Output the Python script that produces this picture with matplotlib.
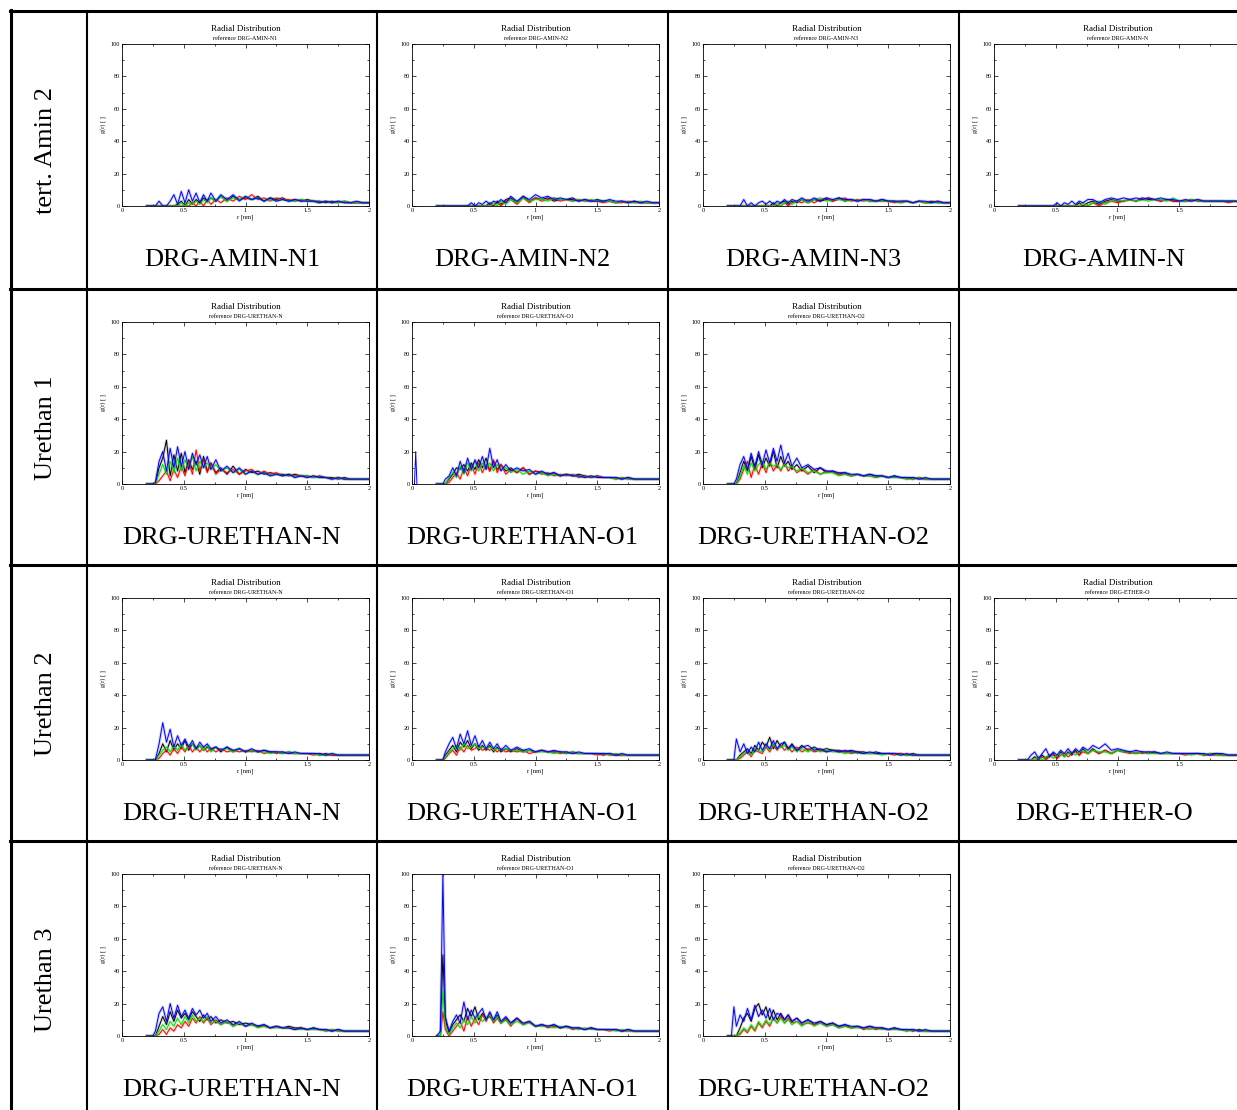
import matplotlib
matplotlib.use('Agg')
import matplotlib.pyplot as plt
from matplotlib.lines import Line2D
from matplotlib.ticker import MultipleLocator, FuncFormatter

plt.rcParams['font.family'] = ['Liberation Serif', 'DejaVu Serif']

# shared r grid [nm]
r_nm = [0.20, 0.23, 0.25, 0.27, 0.30, 0.33, 0.36, 0.39, 0.42, 0.45,
        0.48, 0.51, 0.54, 0.57, 0.60, 0.63, 0.66, 0.69, 0.72, 0.76,
        0.80, 0.85, 0.90, 0.95, 1.00,
        1.05, 1.10, 1.15, 1.20, 1.25, 1.30, 1.35, 1.40, 1.45, 1.50,
        1.55, 1.60, 1.65, 1.70, 1.75, 1.80, 1.85, 1.90, 1.95, 2.00]

row_labels = ['tert. Amin 2', 'Urethan 1', 'Urethan 2', 'Urethan 3']

# --- tert. Amin 2 ---
a2_n1_k = [0,0,0,0,0, 0,0,0,0,1, 3,0,4,1,4, 2,5,3,5,3, 6,3,6,4,5, 4,6,3,5,4, 5,3,4,3,4, 3,3,2,3,2, 3,2,2,2,2]
a2_n1_r = [0,0,0,0,0, 0,0,0,0,0, 0,0,0,2,0, 3,0,4,1,4, 2,5,3,6,4, 7,4,5,3,5, 4,4,3,4,3, 3,2,3,2,3, 2,2,2,2,2]
a2_n1_g = [0,0,0,0,0, 0,0,0,0,0, 2,0,2,1,3, 1,4,2,5,3, 6,3,5,4,6, 4,5,3,4,3, 4,3,3,4,3, 3,2,3,2,2, 3,2,2,2,2]
a2_n1_b = [0,0,0,0,3, 0,0,3,7,1, 9,2,10,3,8, 2,7,3,8,3, 7,4,7,3,6, 4,5,3,5,3, 4,3,4,3,3, 3,2,3,2,3, 2,2,3,2,2]

a2_n2_k = [0,0,0,0,0, 0,0,0,0,0, 0,0,0,0,0, 2,0,3,1,4, 5,2,6,3,5, 4,5,3,4,4, 5,3,4,3,4, 3,3,2,3,2, 3,2,2,2,2]
a2_n2_r = [0,0,0,0,0, 0,0,0,0,0, 0,0,0,0,0, 0,0,2,0,3, 4,1,5,2,5, 3,4,5,3,4, 3,4,3,3,3, 2,3,2,2,3, 2,2,2,2,2]
a2_n2_g = [0,0,0,0,0, 0,0,0,0,0, 0,0,0,0,0, 0,2,0,3,1, 4,2,5,3,4, 4,3,5,4,4, 3,4,3,4,3, 3,3,2,3,2, 2,3,2,2,2]
a2_n2_b = [0,0,0,0,0, 0,0,0,0,0, 2,0,2,1,3, 1,3,2,4,2, 6,3,6,4,7, 5,6,4,5,4, 4,3,4,3,3, 3,4,3,3,2, 3,2,3,2,2]

a2_n3_k = [0,0,0,0,0, 0,0,0,0,0, 0,0,0,2,0, 2,3,1,3,2, 4,2,4,3,4, 3,5,3,4,3, 4,3,3,4,3, 3,2,3,2,3, 2,3,2,2,2]
a2_n3_r = [0,0,0,0,0, 0,0,0,0,0, 0,0,0,0,0, 0,2,0,2,3, 2,4,2,4,5, 3,4,5,3,4, 3,4,3,3,3, 2,3,3,2,3, 2,2,3,2,2]
a2_n3_g = [0,0,0,0,0, 0,0,0,0,0, 0,0,0,0,2, 0,2,3,1,3, 4,2,4,5,3, 4,4,3,4,3, 4,3,3,3,3, 3,2,3,2,3, 2,2,2,2,2]
a2_n3_b = [0,0,0,0,0, 4,0,2,0,2, 3,1,3,1,3, 2,4,2,4,3, 5,3,5,3,5, 4,5,4,4,3, 4,4,3,4,3, 3,3,3,2,3, 3,2,3,2,2]

a2_n_k = [0,0,0,0,0, 0,0,0,0,0, 0,0,0,0,0, 0,0,2,0,2, 3,1,3,4,3, 3,4,3,5,4, 4,3,4,3,3, 3,4,3,3,3, 3,3,3,3,2]
a2_n_r = [0,0,0,0,0, 0,0,0,0,0, 0,0,0,0,0, 0,0,0,0,0, 2,0,2,3,2, 3,4,3,4,5, 4,3,4,3,3, 3,3,4,3,3, 3,3,2,3,2]
a2_n_g = [0,0,0,0,0, 0,0,0,0,0, 0,0,0,0,0, 0,0,0,2,0, 2,3,1,3,4, 3,4,3,4,3, 4,4,3,5,3, 3,4,3,3,3, 3,3,3,3,3]
a2_n_b = [0,0,0,0,0, 0,0,0,0,0, 0,2,0,2,1, 3,1,3,2,4, 4,2,4,5,4, 5,4,5,4,5, 4,5,4,4,3, 4,3,4,3,3, 3,3,3,3,3]

# --- Urethan 1 ---
u1_n_k = [0,0,0,0,10, 16,27,5,18,8, 19,7,15,9,14, 6,17,8,13,7, 10,6,11,6,9, 7,8,6,7,6, 6,5,6,5,5, 4,5,4,4,3, 4,3,3,3,3]
u1_n_r = [0,0,0,0,2, 5,8,2,9,4, 11,5,14,6,21, 8,15,7,13,6, 9,7,9,6,8, 9,6,8,6,7, 5,6,5,5,4, 5,4,4,3,4, 3,3,3,3,3]
u1_n_g = [0,0,0,0,6, 12,6,14,7,16, 8,15,9,17,8, 14,10,13,9,12, 8,10,7,9,6, 8,6,7,5,6, 5,6,4,5,5, 4,4,4,3,4, 3,3,3,3,3]
u1_n_b = [0,0,0,1,14, 20,8,22,10,23, 11,20,9,19,12, 18,10,17,9,15, 8,11,7,10,6, 8,6,7,5,6, 5,6,4,5,4, 5,4,4,3,4, 3,3,3,3,3]

u1_o1_k = [0,0,0,0,3, 6,10,9,12,8, 13,9,15,10,16, 8,14,9,12,8, 10,7,10,6,8, 7,6,7,5,6, 5,6,5,4,5, 4,4,4,3,4, 3,3,3,3,3]
u1_o1_r = [0,0,0,0,1, 4,7,3,10,5, 12,6,13,7,12, 8,15,7,12,6, 9,7,10,6,8, 6,7,5,6,5, 6,4,5,4,5, 4,4,3,4,3, 3,3,3,3,3]
u1_o1_g = [0,0,0,0,4, 7,4,11,6,13, 8,14,8,13,9, 13,8,12,9,10, 7,9,6,8,6, 7,5,6,5,6, 5,5,4,5,4, 4,4,3,4,3, 3,3,3,3,3]
u1_o1_b = [0,0,0,3,5, 10,5,14,7,16, 9,15,10,17,9, 22,10,15,8,12, 8,10,8,9,6, 8,6,7,5,6, 5,5,4,5,4, 4,4,4,3,4, 3,3,3,3,3]
# lone blue spike close to r = 0
u1_o1_spike_r = [0.02, 0.03, 0.04]
u1_o1_spike_b = [0, 20, 0]

u1_o2_k = [0,0,0,0,7, 14,8,17,9,18, 10,16,11,20,10, 17,11,14,9,12, 8,11,7,10,7, 8,6,7,5,6, 5,6,5,5,4, 5,4,4,3,4, 3,3,3,3,3]
u1_o2_r = [0,0,0,0,3, 9,14,4,12,6, 13,7,14,8,12, 8,13,8,11,7, 9,6,9,6,8, 7,6,6,5,6, 5,5,4,5,4, 4,4,3,4,3, 3,3,3,3,3]
u1_o2_g = [0,0,0,0,5, 11,6,13,8,12, 14,9,13,11,12, 9,12,10,11,8, 10,7,8,6,7, 7,5,6,5,6, 5,5,4,5,4, 4,4,3,3,4, 3,3,3,3,3]
u1_o2_b = [0,0,0,3,12, 17,9,19,11,20, 12,21,13,22,14, 24,13,19,11,16, 10,12,9,10,8, 8,7,7,6,6, 5,6,5,5,4, 5,4,4,4,3, 4,3,3,3,3]

# --- Urethan 2 ---
u2_n_k = [0,0,0,0,4, 10,5,12,6,10, 7,12,6,10,7, 9,6,8,6,8, 5,8,5,7,5, 6,5,6,5,5, 4,5,4,4,4, 4,3,4,3,3, 3,3,3,3,3]
u2_n_r = [0,0,0,0,1, 4,6,3,7,4, 8,5,9,5,8, 5,8,5,7,5, 7,5,6,5,6, 5,6,4,5,4, 5,4,4,4,4, 3,4,3,3,3, 3,3,3,3,3]
u2_n_g = [0,0,0,0,3, 6,8,5,9,6, 10,6,9,10,6, 9,6,9,5,8, 6,7,5,7,5, 6,5,5,4,5, 4,5,4,4,4, 4,3,3,4,3, 3,3,3,3,3]
u2_n_b = [0,0,0,0,10, 23,11,19,8,15, 9,13,8,12,7, 11,8,10,7,8, 6,8,6,7,5, 7,5,6,5,5, 5,4,5,4,4, 4,4,3,4,3, 3,3,3,3,3]

u2_o1_k = [0,0,0,3,6, 9,5,11,8,12, 7,10,6,9,6, 9,5,8,5,7, 5,7,5,6,5, 6,5,5,5,4, 5,4,4,4,4, 3,4,3,3,3, 3,3,3,3,3]
u2_o1_r = [0,0,0,1,4, 6,3,8,5,9, 6,7,9,6,7, 6,7,5,7,5, 6,5,6,4,5, 6,5,5,4,5, 4,4,4,4,3, 4,3,3,3,3, 3,3,3,3,3]
u2_o1_g = [0,0,0,2,5, 7,9,6,10,7, 8,10,7,8,7, 8,6,7,6,7, 6,6,5,6,5, 5,5,4,5,4, 5,4,4,4,4, 4,3,4,3,3, 3,3,3,3,3]
u2_o1_b = [0,0,0,5,10, 14,7,16,10,18, 9,15,8,12,7, 11,7,10,6,9, 6,8,6,7,5, 6,5,6,5,5, 4,5,4,4,4, 4,4,3,4,3, 3,3,3,3,3]

u2_o2_k = [0,0,0,0,3, 5,7,4,9,6, 11,8,14,7,12, 8,11,7,10,6, 9,6,8,6,7, 6,6,5,6,5, 5,4,5,4,4, 4,4,3,4,3, 3,3,3,3,3]
u2_o2_r = [0,0,0,0,1, 3,5,2,6,5, 4,8,5,9,6, 9,6,8,5,8, 5,7,5,6,5, 6,5,5,4,5, 4,4,4,4,4, 3,4,3,3,3, 3,3,3,3,3]
u2_o2_g = [0,0,0,0,2, 4,6,3,7,6, 5,9,6,10,7, 8,9,6,8,5, 7,5,7,5,6, 5,5,4,5,4, 4,4,4,3,4, 4,3,3,3,3, 3,3,3,3,3]
u2_o2_b = [0,0,0,13,5, 10,4,8,5,11, 6,10,7,12,7, 10,11,7,9,6, 8,9,6,7,5, 6,5,6,5,5, 4,5,4,4,4, 4,3,4,3,3, 3,3,3,3,3]

u2_eth_k = [0,0,0,0,0, 2,0,3,1,3, 4,1,5,2,5, 3,6,3,7,4, 7,4,6,4,6, 5,5,4,5,4, 5,4,4,4,4, 4,4,4,3,4, 4,3,3,3,3]
u2_eth_r = [0,0,0,0,0, 0,0,2,0,2, 3,1,3,4,2, 4,5,3,5,4, 6,4,6,4,6, 5,4,5,4,5, 4,4,4,4,4, 3,4,4,3,3, 3,3,3,3,3]
u2_eth_g = [0,0,0,0,0, 0,2,0,2,3, 1,3,4,2,4, 5,3,5,6,4, 6,5,5,4,6, 5,5,4,5,4, 4,4,4,4,4, 4,3,4,3,4, 3,3,3,3,3]
u2_eth_b = [0,0,0,0,3, 5,1,4,7,2, 5,3,6,4,7, 4,7,5,8,6, 9,7,10,6,7, 6,5,6,5,5, 5,4,5,4,4, 4,4,4,4,3, 4,4,3,3,3]

# --- Urethan 3 ---
u3_n_k = [0,0,0,0,6, 12,7,15,9,16, 11,14,10,15,12, 9,13,10,12,8, 10,8,9,7,8, 7,6,7,5,6, 5,6,5,5,4, 5,4,4,3,4, 3,3,3,3,3]
u3_n_r = [0,0,0,0,1, 4,1,5,3,7, 5,9,6,11,8, 12,8,11,7,10, 7,9,6,8,6, 7,6,6,5,6, 5,5,4,5,4, 4,4,3,4,3, 3,3,3,3,3]
u3_n_g = [0,0,0,0,3, 7,4,9,6,11, 7,12,8,13,9, 11,9,12,8,9, 7,9,6,8,6, 7,5,6,5,5, 5,5,4,4,4, 4,4,3,4,3, 3,3,3,3,3]
u3_n_b = [0,0,0,3,14, 18,9,20,11,19, 12,16,11,17,13, 16,11,14,9,12, 8,10,7,9,6, 8,6,7,5,6, 5,5,4,5,4, 5,4,4,3,4, 3,3,3,3,3]

u3_o1_k = [0,0,50,10,2, 7,10,13,9,17, 12,18,10,14,11, 12,9,13,8,11, 8,11,7,9,6, 7,6,7,5,6, 5,5,4,5,4, 4,4,4,3,4, 3,3,3,3,3]
u3_o1_r = [0,0,15,4,0, 3,6,9,3,12, 6,11,7,13,9, 14,8,11,8,10, 6,11,7,9,6, 7,5,6,5,6, 4,5,4,5,4, 4,3,4,3,3, 3,3,3,3,3]
u3_o1_g = [0,0,28,6,1, 5,8,5,10,7, 12,8,13,9,11, 13,9,12,8,10, 7,9,7,8,6, 6,6,5,6,5, 5,4,5,4,4, 4,4,3,4,3, 3,3,3,3,3]
u3_o1_b = [0,3,100,12,3, 9,13,8,21,10, 16,11,14,17,10, 15,10,15,9,12, 8,11,8,9,6, 7,6,7,5,6, 5,5,4,5,4, 4,4,4,3,4, 3,3,3,3,3]

u3_o2_k = [0,0,0,0,5, 11,14,9,17,20, 13,18,10,16,10, 14,10,13,9,11, 8,10,7,9,7, 8,6,7,5,6, 5,6,5,5,4, 5,4,4,3,4, 3,3,3,3,3]
u3_o2_r = [0,0,0,0,1, 4,2,6,3,8, 5,9,6,11,8, 12,8,11,8,9, 7,8,7,8,6, 7,5,6,5,6, 4,5,4,5,4, 4,4,3,4,3, 3,3,3,3,3]
u3_o2_g = [0,0,0,0,2, 5,3,7,4,9, 6,10,7,11,8, 11,8,10,7,9, 6,9,6,8,6, 7,5,6,5,5, 5,4,5,4,4, 4,4,3,4,3, 3,3,3,3,3]
u3_o2_b = [0,0,18,6,13, 9,17,10,19,12, 16,11,17,10,14, 13,10,13,9,11, 8,10,8,9,7, 8,6,7,6,6, 5,6,5,5,4, 5,4,4,4,3, 4,3,3,3,3]

# (row, col, caption, [black, red, green, blue])
panels = [
    (0, 0, 'DRG-AMIN-N1', [a2_n1_k, a2_n1_r, a2_n1_g, a2_n1_b]),
    (0, 1, 'DRG-AMIN-N2', [a2_n2_k, a2_n2_r, a2_n2_g, a2_n2_b]),
    (0, 2, 'DRG-AMIN-N3', [a2_n3_k, a2_n3_r, a2_n3_g, a2_n3_b]),
    (0, 3, 'DRG-AMIN-N', [a2_n_k, a2_n_r, a2_n_g, a2_n_b]),
    (1, 0, 'DRG-URETHAN-N', [u1_n_k, u1_n_r, u1_n_g, u1_n_b]),
    (1, 1, 'DRG-URETHAN-O1', [u1_o1_k, u1_o1_r, u1_o1_g, u1_o1_b]),
    (1, 2, 'DRG-URETHAN-O2', [u1_o2_k, u1_o2_r, u1_o2_g, u1_o2_b]),
    (2, 0, 'DRG-URETHAN-N', [u2_n_k, u2_n_r, u2_n_g, u2_n_b]),
    (2, 1, 'DRG-URETHAN-O1', [u2_o1_k, u2_o1_r, u2_o1_g, u2_o1_b]),
    (2, 2, 'DRG-URETHAN-O2', [u2_o2_k, u2_o2_r, u2_o2_g, u2_o2_b]),
    (2, 3, 'DRG-ETHER-O', [u2_eth_k, u2_eth_r, u2_eth_g, u2_eth_b]),
    (3, 0, 'DRG-URETHAN-N', [u3_n_k, u3_n_r, u3_n_g, u3_n_b]),
    (3, 1, 'DRG-URETHAN-O1', [u3_o1_k, u3_o1_r, u3_o1_g, u3_o1_b]),
    (3, 2, 'DRG-URETHAN-O2', [u3_o2_k, u3_o2_r, u3_o2_g, u3_o2_b]),
]

colors = ['black', '#ff0000', '#00e000', '#0000ff']

# layout in pixels
W, H = 1237, 1110
row_top = [11, 289, 565, 841]
col_left = [87, 377, 668, 959]
cell_w = 290

fig = plt.figure(figsize=(W / 100, H / 100), dpi=100)

def fx(x):
    return x / W

def fy(y):
    return 1 - y / H

# table grid
for y in row_top:
    fig.add_artist(Line2D([fx(9.5), fx(W)], [fy(y), fy(y)], lw=2.2, color='k'))
fig.add_artist(Line2D([fx(10.5), fx(10.5)], [fy(9.5), fy(H)], lw=2.2, color='k'))
for x in col_left:
    fig.add_artist(Line2D([fx(x), fx(x)], [fy(11), fy(H)], lw=1.5, color='k'))

for i, lab in enumerate(row_labels):
    fig.text(fx(52), fy(row_top[i] + 139), lab, rotation=90, rotation_mode='anchor',
             ha='center', va='baseline', fontsize=19)

fmt = FuncFormatter(lambda v, p: f'{v:g}')
# last column is cut by the page edge, its "2" label is not shown
fmt_cut = FuncFormatter(lambda v, p: '' if v > 1.9 else f'{v:g}')

for row, col, caption, series in panels:
    x0 = col_left[col] + 35
    y0 = row_top[row] + 33
    ax = fig.add_axes([fx(x0), fy(y0 + 162), 247 / W, 162 / H])
    for vals, c in zip(series, colors):
        ax.plot(r_nm, vals, color=c, lw=2.0, alpha=0.18)   # soft noise halo
        ax.plot(r_nm, vals, color=c, lw=0.7)
    if caption == 'DRG-URETHAN-O1' and row == 1:
        ax.plot(u1_o1_spike_r, u1_o1_spike_b, color=colors[3], lw=0.7)
    ax.set_xlim(0, 2)
    ax.set_ylim(0, 100)
    ax.xaxis.set_major_locator(MultipleLocator(0.5))
    ax.xaxis.set_minor_locator(MultipleLocator(0.25))
    ax.yaxis.set_major_locator(MultipleLocator(20))
    ax.yaxis.set_minor_locator(MultipleLocator(10))
    ax.xaxis.set_major_formatter(fmt_cut if col == 3 else fmt)
    ax.tick_params(which='both', direction='in', top=True, right=True,
                   labelsize=4.5, pad=1.5, width=0.5)
    ax.tick_params(which='major', length=3)
    ax.tick_params(which='minor', length=1.5)
    for s in ax.spines.values():
        s.set_linewidth(0.6)
    ax.set_xlabel('r [nm]', fontsize=4.5, labelpad=1)
    ax.set_ylabel('g(r) [ ]', fontsize=4.5, labelpad=3)
    cx = x0 + 123.5
    fig.text(fx(cx), fy(y0 - 15), 'Radial Distribution', ha='center', va='center', fontsize=6.5)
    fig.text(fx(cx), fy(y0 - 6), 'reference ' + caption, ha='center', va='center', fontsize=4.3)
    fig.text(fx(col_left[col] + cell_w / 2), fy(row_top[row] + 255), caption,
             ha='center', va='baseline', fontsize=19)

fig.savefig('out.png', dpi=100)
